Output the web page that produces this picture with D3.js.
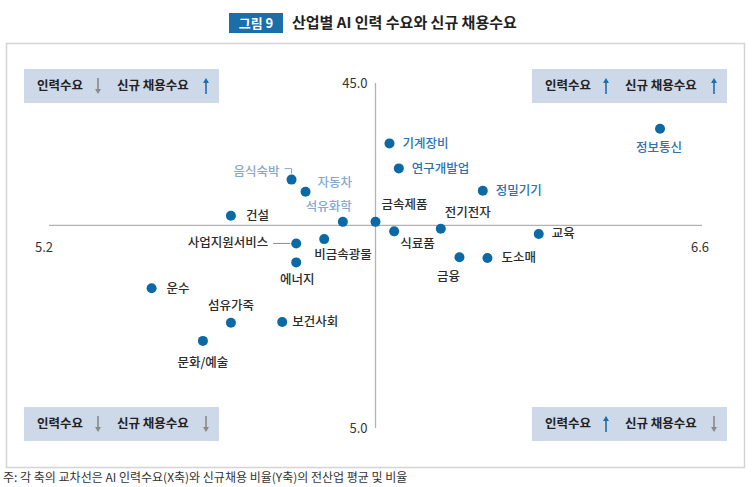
<!DOCTYPE html>
<html>
<head>
<meta charset="utf-8">
<script src="https://cdn.jsdelivr.net/npm/d3@7"></script>
<style>
  body { margin: 0; background: #fff; }
  svg { display: block; font-family: "Noto Sans CJK KR", "Noto Sans", sans-serif; }
</style>
</head>
<body>
<div id="chart"></div>
<script>
/* CONSTANTS AND GLOBALS */
const width = 755;
const height = 487;
const dot_color = '#0b69a6';
const box_fill = '#cdd8e8';

/* DATA */
const industries = ['정보통신', '기계장비', '연구개발업', '정밀기기', '음식숙박', '자동차', '석유화학',
  '건설', '금속제품', '식료품', '전기전자', '교육', '금융', '도소매', '사업지원서비스', '비금속광물',
  '에너지', '운수', '섬유가죽', '보건사회', '문화/예술'];
const aiDemand = [6.51, 5.93, 5.95, 6.13, 5.72, 5.75, 5.83, 5.59, 5.90, 5.94, 6.04, 6.25, 6.08, 6.14,
  5.73, 5.79, 5.73, 5.42, 5.59, 5.70, 5.53];
const hiringRatio = [39.7, 38.0, 35.1, 32.5, 33.8, 32.4, 28.9, 29.6, 28.9, 27.8, 28.1, 27.5, 24.8, 24.7,
  26.4, 26.9, 24.2, 21.2, 17.2, 17.3, 15.1];
const xDomain = [5.2, 6.6];
const yDomain = [5.0, 45.0];
const xTickLabels = ['5.2', '6.6'];
const yTickLabels = ['5.0', '45.0'];
const avgDemand = 5.9;
const avgHiring = 28.5;
// [인력수요 up?, 신규 채용수요 up?] : top-left, top-right, bottom-left, bottom-right
const quadrants = [[false, true], [true, true], [false, false], [true, false]];

const data = industries.map((name, i) => ({ name, x: aiDemand[i], y: hiringRatio[i] }));

/* label layout (offsets from the dot) */
const blue = '#2a72b4', light = '#86a7cf', dark = '#2b2b2b';
const labelPos = {
  '정보통신': { dx: -1, dy: 19, a: 'middle', c: blue },
  '기계장비': { dx: 13, dy: 0, a: 'start', c: blue },
  '연구개발업': { dx: 13, dy: 0, a: 'start', c: blue },
  '정밀기기': { dx: 13, dy: 0, a: 'start', c: blue },
  '음식숙박': { dx: -12, dy: -8, a: 'end', c: light },
  '자동차': { dx: 12, dy: -9, a: 'start', c: light },
  '석유화학': { dx: 9, dy: -15, a: 'end', c: light },
  '건설': { dx: 15, dy: 0, a: 'start', c: dark },
  '금속제품': { dx: 6, dy: -17, a: 'start', c: dark },
  '식료품': { dx: 6, dy: 12, a: 'start', c: dark },
  '전기전자': { dx: 4, dy: -16, a: 'start', c: dark },
  '교육': { dx: 13, dy: 0, a: 'start', c: dark },
  '금융': { dx: -11, dy: 19, a: 'middle', c: dark },
  '도소매': { dx: 14, dy: 0, a: 'start', c: dark },
  '사업지원서비스': { dx: -28, dy: -1, a: 'end', c: dark },
  '비금속광물': { dx: -10, dy: 16, a: 'start', c: dark },
  '에너지': { dx: 1, dy: 17, a: 'middle', c: dark },
  '운수': { dx: 15, dy: 0, a: 'start', c: dark },
  '섬유가죽': { dx: 0, dy: -17, a: 'middle', c: dark },
  '보건사회': { dx: 10, dy: 0, a: 'start', c: dark },
  '문화/예술': { dx: 0, dy: 22, a: 'middle', c: dark }
};

/* SCALES */
const xScale = d3.scaleLinear().domain(xDomain).range([49, 702]);
const yScale = d3.scaleLinear().domain(yDomain).range([428, 83]);

/* HTML ELEMENTS */
const svg = d3.select('#chart')
  .append('svg')
  .attr('width', width)
  .attr('height', height)
  .style('background-color', 'white');

// title
svg.append('rect')
  .attr('x', 229).attr('y', 13).attr('width', 54).attr('height', 20)
  .attr('fill', '#1b6ea8');
svg.append('text')
  .attr('x', 256).attr('y', 23).attr('dy', '0.35em')
  .attr('text-anchor', 'middle').attr('fill', 'white')
  .attr('font-size', 13).attr('font-weight', 700)
  .text('그림 9');
svg.append('text')
  .attr('x', 292).attr('y', 23).attr('dy', '0.35em')
  .attr('fill', '#222').attr('font-size', 15).attr('font-weight', 700)
  .text('산업별 AI 인력 수요와 신규 채용수요');

// frame
svg.append('rect')
  .attr('x', 6.5).attr('y', 43.5).attr('width', 738).attr('height', 424)
  .attr('fill', 'none').attr('stroke', '#d4d4d4').attr('stroke-width', 1.5);

// quadrant boxes
const boxX = [24, 532];
const boxY = [69, 407];
const arrow = (g, x, yc, up, color) => {
  const tip = up ? yc - 8 : yc + 8;
  const tail = up ? yc + 8 : yc - 8;
  g.append('line')
    .attr('x1', x).attr('x2', x).attr('y1', tail).attr('y2', tip + (up ? 4 : -4))
    .attr('stroke', color).attr('stroke-width', 1.6);
  g.append('path')
    .attr('d', `M${x - 3},${tip + (up ? 5 : -5)} L${x},${tip} L${x + 3},${tip + (up ? 5 : -5)} Z`)
    .attr('fill', color);
};
quadrants.forEach((q, i) => {
  const bx = boxX[i % 2];
  const by = boxY[Math.floor(i / 2)];
  const g = svg.append('g');
  g.append('rect')
    .attr('x', bx).attr('y', by).attr('width', 195).attr('height', 34)
    .attr('fill', box_fill);
  const yc = by + 17;
  g.append('text')
    .attr('x', bx + 13).attr('y', yc).attr('dy', '0.35em')
    .attr('font-size', 12.5).attr('font-weight', 700).attr('fill', '#222')
    .text('인력수요');
  arrow(g, bx + 74, yc, q[0], q[0] ? '#1c6fae' : '#8a8a8a');
  g.append('text')
    .attr('x', bx + 93).attr('y', yc).attr('dy', '0.35em')
    .attr('font-size', 12.5).attr('font-weight', 700).attr('fill', '#222')
    .text('신규 채용수요');
  arrow(g, bx + 182, yc, q[1], q[1] ? '#1c6fae' : '#8a8a8a');
});

// axes lines through the all-industry average
svg.append('line')
  .attr('x1', xScale(xDomain[0])).attr('x2', xScale(xDomain[1]))
  .attr('y1', yScale(avgHiring)).attr('y2', yScale(avgHiring))
  .attr('stroke', '#b3b3b3').attr('stroke-width', 1.3);
svg.append('line')
  .attr('x1', xScale(avgDemand)).attr('x2', xScale(avgDemand))
  .attr('y1', yScale(yDomain[0])).attr('y2', yScale(yDomain[1]))
  .attr('stroke', '#b3b3b3').attr('stroke-width', 1.3);

// axis end labels
svg.append('g')
  .attr('font-size', 13).attr('fill', '#333')
  .selectAll('text')
  .data(xDomain)
  .join('text')
  .attr('x', d => xScale(d) + (d === xDomain[0] ? -5 : -2))
  .attr('y', yScale(avgHiring) + 22).attr('dy', '0.35em')
  .attr('text-anchor', 'middle')
  .text((d, i) => xTickLabels[i]);
svg.append('g')
  .attr('font-size', 13).attr('fill', '#333')
  .selectAll('text')
  .data(yDomain)
  .join('text')
  .attr('x', xScale(avgDemand) - 8)
  .attr('y', d => yScale(d)).attr('dy', '0.35em')
  .attr('text-anchor', 'end')
  .text((d, i) => yTickLabels[i]);

// leader lines
const leader = svg.append('g').attr('fill', 'none').attr('stroke-width', 1);
const ds = data.find(d => d.name === '음식숙박');
leader.append('path')
  .attr('d', `M${xScale(ds.x) - 7},${yScale(ds.y) - 11} H${xScale(ds.x)} V${yScale(ds.y) - 6}`)
  .attr('stroke', light);
const bs = data.find(d => d.name === '사업지원서비스');
leader.append('line')
  .attr('x1', xScale(bs.x) - 23).attr('x2', xScale(bs.x) - 6)
  .attr('y1', yScale(bs.y)).attr('y2', yScale(bs.y))
  .attr('stroke', '#8a8a8a');

// dots
svg.append('g')
  .attr('fill', dot_color)
  .selectAll('circle')
  .data(data)
  .join('circle')
  .attr('cx', d => xScale(d.x))
  .attr('cy', d => yScale(d.y))
  .attr('r', 5);

// labels
svg.append('g')
  .attr('font-size', 12.5)
  .attr('font-weight', 500)
  .selectAll('text')
  .data(data)
  .join('text')
  .attr('x', d => xScale(d.x) + labelPos[d.name].dx)
  .attr('y', d => yScale(d.y) + labelPos[d.name].dy)
  .attr('dy', '0.35em')
  .attr('text-anchor', d => labelPos[d.name].a)
  .attr('fill', d => labelPos[d.name].c)
  .text(d => d.name);

// footnote
svg.append('text')
  .attr('x', 3).attr('y', 478).attr('dy', '0.35em')
  .attr('font-size', 12).attr('fill', '#333')
  .text('주: 각 축의 교차선은 AI 인력수요(X축)와 신규채용 비율(Y축)의 전산업 평균 및 비율');
</script>
</body>
</html>
